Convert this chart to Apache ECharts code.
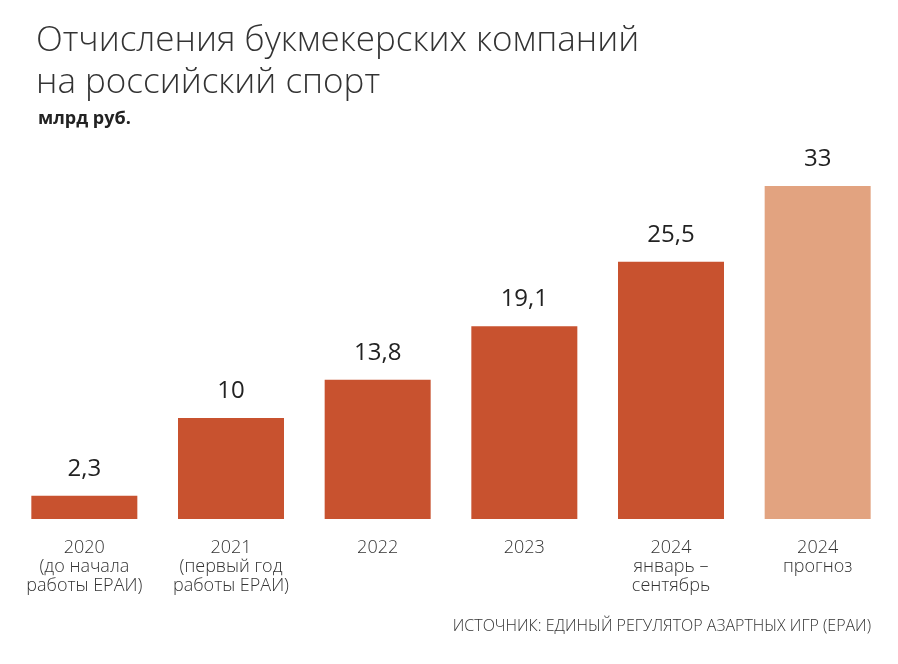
<!DOCTYPE html>
<html><head><meta charset="utf-8">
<script src="https://cdn.jsdelivr.net/npm/echarts@6/dist/echarts.min.js"></script>
<style>html,body{margin:0;padding:0;background:#fff}#c{width:898px;height:664px}</style>
</head><body><div id="c"></div>
<script>
const categories = [
  '2020\n(до начала\nработы ЕРАИ)',
  '2021\n(первый год\nработы ЕРАИ)',
  '2022',
  '2023',
  '2024\nянварь –\nсентябрь',
  '2024\nпрогноз'
];
const values = [2.3, 10, 13.8, 19.1, 25.5, 33];
const valueLabels = ['2,3', '10', '13,8', '19,1', '25,5', '33'];
const forecastIndex = 5;

const chart = echarts.init(document.getElementById('c'), null, {renderer: 'canvas'});
const font = '"Open Sans", "Noto Sans", sans-serif';
chart.setOption({
  backgroundColor: '#fff',
  animation: false,
  title: [
    {text: 'Отчисления букмекерских компаний\nна российский спорт', left: 31, top: 15,
     textStyle: {fontFamily: font, fontWeight: 300, fontSize: 35, lineHeight: 42, color: '#333'}},
    {text: 'млрд руб.', left: 33, top: 105,
     textStyle: {fontFamily: font, fontWeight: 700, fontSize: 18, color: '#222'}},
    {text: 'ИСТОЧНИК: ЕДИНЫЙ РЕГУЛЯТОР АЗАРТНЫХ ИГР (ЕРАИ)', right: 22, top: 613,
     textStyle: {fontFamily: font, fontWeight: 300, fontSize: 16, color: '#333'}}
  ],
  grid: {left: 11, right: 7, top: 186, bottom: 145},
  xAxis: {
    type: 'category', data: categories,
    axisLine: {show: false}, axisTick: {show: false},
    axisLabel: {fontFamily: font, fontWeight: 300, fontSize: 18, lineHeight: 19, color: '#333', margin: 19, interval: 0}
  },
  yAxis: {type: 'value', min: 0, max: 33, show: false, splitLine: {show: false}},
  series: [{
    type: 'bar', barWidth: 106,
    data: values.map((v, i) => ({value: v, itemStyle: {color: i === forecastIndex ? '#E2A380' : '#C8522F'}})),
    label: {show: true, position: 'top', distance: 15, fontFamily: font, fontWeight: 500, fontSize: 24, color: '#222',
      formatter: p => valueLabels[p.dataIndex]}
  }]
});
</script></body></html>
